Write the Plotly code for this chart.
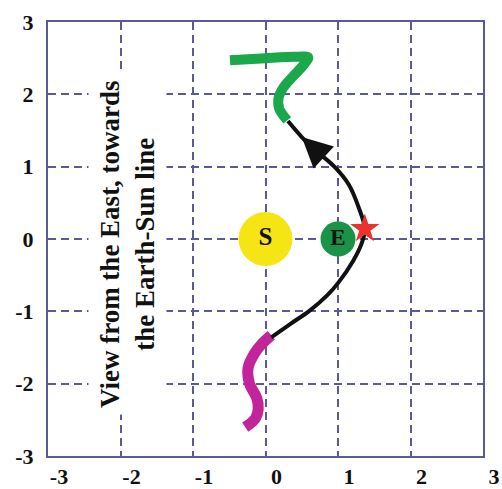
import plotly.graph_objects as go

# Path segments (x, y) in units of the grid
black_x = [0.08, 0.35, 0.61, 0.85, 1.00, 1.21, 1.33, 1.37, 1.28, 1.15, 0.95, 0.72, 0.50, 0.31]
black_y = [-1.36, -1.17, -0.99, -0.78, -0.61, -0.30, -0.05, 0.14, 0.45, 0.75, 1.00, 1.20, 1.41, 1.63]

green_x = [0.30, 0.19, 0.18, 0.25, 0.38, 0.52, 0.59, 0.40, 0.00, -0.49]
green_y = [1.64, 1.80, 1.95, 2.10, 2.25, 2.40, 2.51, 2.52, 2.50, 2.47]

magenta_x = [0.08, -0.05, -0.15, -0.24, -0.22, -0.12, -0.10, -0.14, -0.28]
magenta_y = [-1.33, -1.45, -1.58, -1.78, -2.00, -2.20, -2.35, -2.48, -2.60]

# Bodies
sun_xy = (0.0, 0.0)
earth_xy = (1.0, 0.0)
star_xy = (1.37, 0.14)

# Direction arrow: tip and tail on the path
arrow_tip = (0.50, 1.41)
arrow_tail = (0.64, 1.28)

tick_vals = [-3, -2, -1, 0, 1, 2, 3]
tick_text = ["-3", "-2", "-1", "0", "1", "2", "3"]

label_text = "View from the East, towards<br>the Earth-Sun line"
label_xy = (-1.91, -0.07)

FONT = "Liberation Serif"
GRID = "#5a5a98"

fig = go.Figure()

fig.add_trace(go.Scatter(x=magenta_x, y=magenta_y, mode="lines",
                         line=dict(color="#c2259a", width=11, shape="spline"),
                         hoverinfo="skip"))
fig.add_trace(go.Scatter(x=green_x, y=green_y, mode="lines",
                         line=dict(color="#1aa84a", width=10, shape="spline", smoothing=0.8),
                         hoverinfo="skip"))
fig.add_trace(go.Scatter(x=black_x, y=black_y, mode="lines",
                         line=dict(color="#111111", width=4, shape="spline"),
                         hoverinfo="skip"))

fig.add_trace(go.Scatter(x=[sun_xy[0]], y=[sun_xy[1]], mode="markers+text",
                         marker=dict(size=54, color="#f6e514", line=dict(width=0)),
                         text=["<b>S</b>"], textposition="middle center",
                         textfont=dict(family=FONT, size=25, color="#111111"),
                         hoverinfo="skip"))
fig.add_trace(go.Scatter(x=[earth_xy[0]], y=[earth_xy[1]], mode="markers+text",
                         marker=dict(size=35, color="#1a9248", line=dict(width=0)),
                         text=["<b>E</b>"], textposition="middle center",
                         textfont=dict(family=FONT, size=23, color="#111111"),
                         hoverinfo="skip"))
fig.add_trace(go.Scatter(x=[star_xy[0]], y=[star_xy[1]], mode="markers",
                         marker=dict(symbol="star", size=22, color="#e8342a", line=dict(width=0)),
                         hoverinfo="skip"))

fig.add_annotation(x=arrow_tip[0], y=arrow_tip[1], ax=arrow_tail[0], ay=arrow_tail[1],
                   xref="x", yref="y", axref="x", ayref="y", text="",
                   showarrow=True, arrowhead=2, arrowsize=2, arrowwidth=3,
                   arrowcolor="#111111", standoff=0)

fig.add_annotation(x=label_xy[0], y=label_xy[1], xref="x", yref="y",
                   text="<b>" + label_text + "</b>", showarrow=False, textangle=-90,
                   font=dict(family=FONT, size=27, color="#111111"),
                   bgcolor="white", borderpad=6, align="center")

axis_common = dict(range=[-3, 3], tickvals=tick_vals, ticktext=tick_text,
                   showgrid=True, gridcolor=GRID, gridwidth=1.5, griddash="8px,5px",
                   zeroline=False, showline=True, linecolor=GRID, linewidth=2,
                   mirror=True, ticks="", automargin=False,
                   tickfont=dict(family=FONT, size=22, color="#111111", weight="bold"))

fig.update_xaxes(**axis_common, ticklabelshift=11, ticklabelstandoff=0)
fig.update_yaxes(**axis_common, ticklabelstandoff=8)

fig.update_layout(width=502, height=489, showlegend=False,
                  margin=dict(l=48, r=19, t=22, b=33),
                  paper_bgcolor="white", plot_bgcolor="white")

fig.write_html("out.html")
